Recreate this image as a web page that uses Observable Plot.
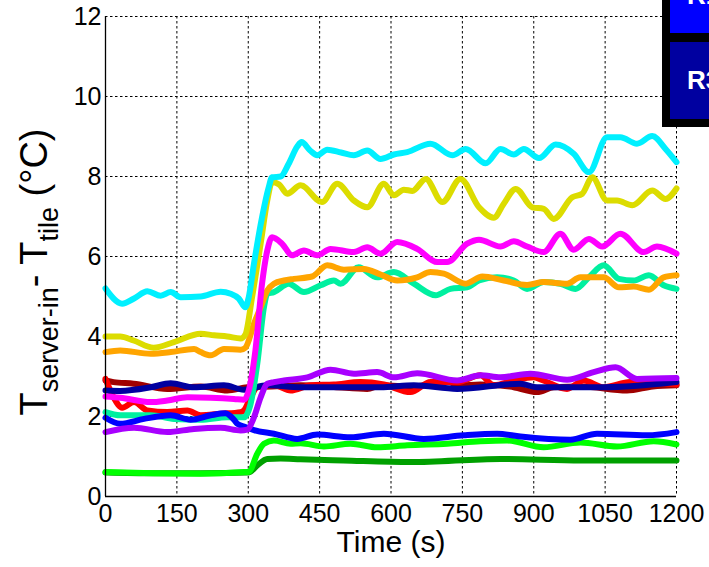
<!DOCTYPE html>
<html>
<head>
<meta charset="utf-8">
<script src="https://cdn.jsdelivr.net/npm/d3@7"></script>
<script src="https://cdn.jsdelivr.net/npm/@observablehq/plot@0.6"></script>
<style>
  html, body { margin: 0; padding: 0; background: #fff; overflow: hidden; }
  #chart { width: 709px; height: 567px; overflow: hidden; }
</style>
</head>
<body>
<div id="chart"></div>
<script>
// Temperature difference between server inlet and floor tile, per rack, over time [s, °C]
const cyanRack = [[0,5.2],[35,4.82],[60,4.95],[88,5.13],[116,5.02],[137,5.11],[158,4.98],[200,5.0],[242,5.12],[263,5.07],[280,4.95],[294,4.73],[301,4.98],[312,5.82],[329,6.98],[343,7.73],[350,7.98],[368,8.0],[385,8.32],[403,8.75],[412,8.86],[430,8.65],[445,8.53],[466,8.67],[495,8.6],[522,8.53],[550,8.65],[578,8.44],[606,8.55],[634,8.61],[683,8.82],[729,8.53],[757,8.69],[799,8.33],[830,8.69],[858,8.55],[879,8.69],[911,8.46],[946,8.8],[984,8.57],[1016,8.11],[1054,8.98],[1082,8.98],[1117,8.82],[1149,9.01],[1177,8.69],[1200,8.36]];
const yellowRack = [[0,4.0],[31,4.0],[59,3.9],[101,3.72],[144,3.86],[200,4.07],[228,4.03],[256,4.0],[284,3.95],[294,4.05],[308,4.98],[326,6.32],[340,7.4],[350,7.86],[365,7.8],[382,7.57],[410,7.78],[455,7.36],[487,7.82],[522,7.4],[550,7.23],[585,7.82],[606,7.53],[627,7.67],[645,7.64],[673,7.94],[708,7.36],[746,7.94],[785,7.23],[816,6.97],[837,7.32],[862,7.69],[897,7.23],[921,7.19],[942,6.94],[981,7.48],[1002,7.57],[1023,7.98],[1054,7.4],[1075,7.4],[1107,7.28],[1149,7.65],[1177,7.44],[1200,7.7]];
const magentaRack = [[0,2.5],[31,2.47],[95,2.36],[130,2.4],[172,2.48],[221,2.47],[270,2.44],[291,2.42],[301,2.65],[315,3.65],[329,5.32],[340,6.15],[350,6.48],[371,6.32],[392,6.03],[417,6.15],[445,6.03],[473,6.19],[522,6.11],[550,6.23],[578,6.07],[613,6.36],[655,6.19],[697,5.86],[718,5.86],[760,6.32],[785,6.42],[830,6.25],[858,6.38],[886,6.25],[921,6.11],[956,6.57],[984,6.17],[1016,6.44],[1044,6.25],[1082,6.57],[1131,6.11],[1159,6.25],[1200,6.07]];
const orangeRack = [[0,3.61],[31,3.65],[95,3.57],[137,3.61],[186,3.69],[200,3.61],[221,3.53],[249,3.69],[284,3.67],[294,3.72],[312,4.32],[326,4.73],[340,5.15],[354,5.32],[375,5.4],[396,5.44],[434,5.5],[466,5.78],[501,5.67],[543,5.69],[578,5.55],[613,5.4],[655,5.48],[683,5.61],[711,5.57],[757,5.32],[792,5.5],[837,5.4],[886,5.29],[921,5.36],[970,5.32],[998,5.48],[1047,5.48],[1079,5.23],[1110,5.25],[1142,5.17],[1173,5.48],[1200,5.53]];
const springRack = [[0,2.11],[31,2.03],[95,2.03],[144,1.94],[200,1.92],[256,1.98],[291,1.98],[305,2.32],[319,3.32],[333,4.73],[340,5.07],[354,5.11],[385,5.32],[417,5.11],[452,5.28],[480,5.4],[494,5.32],[532,5.73],[571,5.48],[606,5.61],[648,5.32],[694,5.03],[725,5.19],[760,5.23],[785,5.4],[823,5.48],[858,5.4],[886,5.19],[921,5.36],[956,5.32],[988,5.19],[1016,5.48],[1047,5.78],[1079,5.44],[1110,5.4],[1142,5.53],[1173,5.28],[1200,5.19]];
const darkRedRack = [[0,2.9],[17,2.86],[59,2.82],[130,2.69],[200,2.75],[256,2.65],[298,2.73],[350,2.75],[410,2.78],[480,2.74],[550,2.69],[578,2.78],[648,2.75],[718,2.86],[746,2.78],[788,2.8],[850,2.75],[907,2.61],[942,2.73],[1000,2.75],[1096,2.65],[1150,2.75],[1200,2.78]];
const redRack = [[0,2.94],[17,2.48],[35,2.22],[60,2.36],[88,2.15],[130,2.11],[172,2.15],[200,2.03],[242,2.07],[284,2.11],[291,2.15],[305,2.48],[319,2.73],[354,2.78],[389,2.65],[431,2.78],[480,2.8],[536,2.86],[585,2.8],[641,2.61],[683,2.86],[739,2.86],[788,3.03],[816,2.78],[858,2.9],[900,2.98],[920,2.9],[970,2.69],[1005,2.9],[1047,2.73],[1103,2.86],[1200,2.8]];
const navyRack = [[0,2.65],[31,2.64],[95,2.73],[137,2.83],[186,2.73],[249,2.78],[291,2.67],[340,2.78],[410,2.73],[480,2.73],[578,2.73],[648,2.78],[739,2.69],[872,2.82],[907,2.73],[1047,2.73],[1200,2.86]];
const purpleRack = [[0,1.61],[60,1.72],[130,1.61],[186,1.69],[242,1.72],[284,1.65],[298,1.67],[312,1.98],[326,2.48],[340,2.82],[354,2.86],[375,2.9],[424,2.98],[473,3.17],[522,3.07],[571,3.11],[606,2.98],[655,3.08],[739,2.9],[788,3.03],[830,2.98],[893,3.07],[970,2.92],[1026,3.11],[1072,3.23],[1117,2.94],[1200,2.96]];
const blueRack = [[0,1.97],[31,1.82],[81,1.94],[137,2.03],[179,1.92],[221,2.03],[252,2.08],[270,1.92],[277,1.82],[291,1.75],[312,1.66],[354,1.57],[403,1.44],[445,1.55],[515,1.48],[585,1.57],[669,1.44],[753,1.53],[823,1.57],[872,1.5],[977,1.42],[1033,1.57],[1138,1.53],[1200,1.61]];
const limeRack = [[0,0.61],[100,0.58],[200,0.57],[291,0.61],[301,0.62],[319,1.07],[333,1.32],[354,1.4],[389,1.32],[410,1.33],[459,1.25],[515,1.32],[571,1.23],[634,1.28],[718,1.32],[788,1.38],[844,1.4],[921,1.23],[998,1.35],[1075,1.25],[1152,1.38],[1200,1.3]];
const greenRack = [[0,0.6],[100,0.58],[200,0.58],[301,0.6],[319,0.78],[340,0.94],[368,0.95],[410,0.93],[500,0.9],[641,0.86],[830,0.94],[1000,0.9],[1200,0.9]];

// Drawing order (first is bottom-most) and matching line colours
const seriesList = [greenRack, limeRack, darkRedRack, redRack, navyRack, springRack, blueRack, purpleRack, orangeRack, magentaRack, yellowRack, cyanRack];
const seriesColors = ["#00a000", "#00ff00", "#a00000", "#ff0000", "#0000a0", "#00f0a0", "#0000ff", "#a800ff", "#ffa500", "#ff00ff", "#dcdc00", "#00f0ff"];

const xTicks = [0, 150, 300, 450, 600, 750, 900, 1050, 1200];
const yTicks = [0, 2, 4, 6, 8, 10, 12];
const legendLabels = ["R1", "R3"];
const titleText = "(c)";

const font = "'Liberation Sans', Arial, Helvetica, sans-serif";
const dash = {stroke: "#000", strokeOpacity: 1, strokeWidth: 1, strokeDasharray: "2.5,2.5"};

const lineMarks = seriesList.map((s, i) =>
  Plot.line(s, {x: d => d[0], y: d => d[1], stroke: seriesColors[i], strokeWidth: 6, curve: "monotone-x"})
);

const chart = Plot.plot({
  width: 709,
  height: 567,
  marginLeft: 105,
  marginRight: 33,
  marginTop: 16,
  marginBottom: 71,
  style: {fontFamily: font, background: "#fff", color: "#000"},
  x: {domain: [0, 1200]},
  y: {domain: [0, 12]},
  marks: [
    Plot.gridX(xTicks.filter(d => d > 0), dash),
    Plot.gridY(yTicks.filter(d => d > 0), dash),
    ...lineMarks,
    Plot.ruleY([0], {stroke: "#000", strokeWidth: 1.3}),
    Plot.ruleX([0], {stroke: "#000", strokeWidth: 1.3}),
    Plot.axisX(xTicks, {tickSize: 0, tickPadding: 8, fontSize: 25, label: null, tickFormat: d => String(d)}),
    Plot.axisY(yTicks, {tickSize: 0, tickPadding: 4, fontSize: 25, label: null, tickFormat: d => String(d)}),
    Plot.text(["Time (s)"], {frameAnchor: "bottom", dy: 55, fontSize: 30, fill: "#000"})
  ]
});

document.getElementById("chart").appendChild(chart);
const svg = d3.select(chart);

// Y-axis label with subscripts
const yl = svg.append("text")
  .attr("transform", "translate(47,272) rotate(-90)")
  .attr("text-anchor", "middle")
  .attr("fill", "#000")
  .style("font-family", font)
  .style("font-size", "38px");
yl.append("tspan").text("T");
yl.append("tspan").attr("font-size", 27).attr("dy", 11).text("server-in");
yl.append("tspan").attr("dy", -11).text("- T");
yl.append("tspan").attr("font-size", 27).attr("dy", 11).text("tile");
yl.append("tspan").attr("dy", -11).text(" (°C)");

// Panel title
svg.append("text")
  .attr("x", 429).attr("y", -6)
  .attr("text-anchor", "middle")
  .style("font-family", font).style("font-size", "30px")
  .text(titleText);

// Legend box in the top-right corner
const lg = svg.append("g").attr("text-anchor", "start");
lg.append("rect").attr("x", 662).attr("y", -2).attr("width", 60).attr("height", 129).attr("fill", "#000");
lg.append("rect").attr("x", 670).attr("y", -2).attr("width", 50).attr("height", 35).attr("fill", "#0000ff");
lg.append("rect").attr("x", 670).attr("y", 42).attr("width", 50).attr("height", 77).attr("fill", "#0000a0");
lg.append("text").attr("x", 687).attr("y", 4).attr("text-anchor", "start").attr("fill", "#fff")
  .style("font-family", font).style("font-size", "26px").style("font-weight", "bold").text(legendLabels[0]);
lg.append("text").attr("x", 687).attr("y", 89).attr("text-anchor", "start").attr("fill", "#fff")
  .style("font-family", font).style("font-size", "26px").style("font-weight", "bold").text(legendLabels[1]);
</script>
</body>
</html>
